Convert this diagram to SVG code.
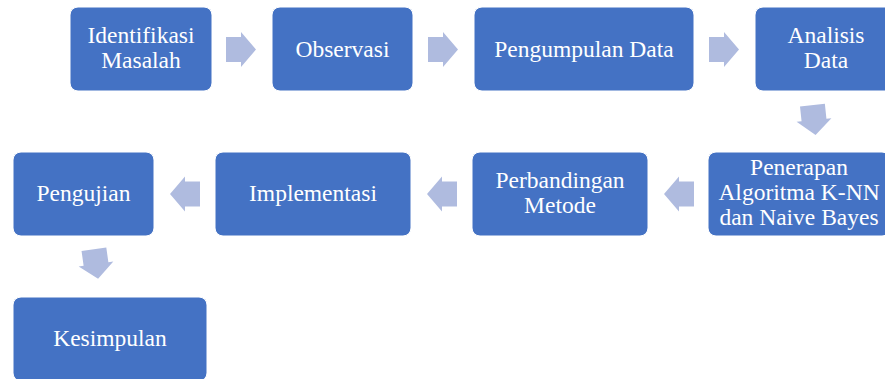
<svg xmlns="http://www.w3.org/2000/svg" xmlns:xlink="http://www.w3.org/1999/xlink" width="885" height="379" viewBox="0 0 885 379">
<style>
.box{fill:#4472C4;stroke:#ffffff;stroke-width:1}
.lbl{font-size:23.5px;fill:#ffffff;text-anchor:middle}
.arr{fill:#AFBBDF}
</style>
<defs>
<path id="arrowR" d="M-15,-12.5 H0 V-17.5 L15,0 L0,17.5 V12.5 H-15 Z"/>
</defs>
<rect width="885" height="379" fill="#ffffff"/>
<g id="connectors" class="arr">
<use xlink:href="#arrowR" transform="translate(241,49.5)"/>
<use xlink:href="#arrowR" transform="translate(443,49.5)"/>
<use xlink:href="#arrowR" transform="translate(724,49.5)"/>
<use xlink:href="#arrowR" transform="translate(814,120) rotate(84)"/>
<use xlink:href="#arrowR" transform="translate(679,194) rotate(180)"/>
<use xlink:href="#arrowR" transform="translate(442,194) rotate(180)"/>
<use xlink:href="#arrowR" transform="translate(185,194) rotate(180)"/>
<use xlink:href="#arrowR" transform="translate(96,264) rotate(82)"/>
</g>
<g font-family="'Liberation Serif', 'Times New Roman', 'DejaVu Serif', serif">
<g id="n1"><rect class="box" x="70" y="7" width="142" height="84" rx="8"/>
<text class="lbl" x="141" y="43">Identifikasi</text><text class="lbl" x="141" y="68">Masalah</text></g>
<g id="n2"><rect class="box" x="272" y="7" width="141" height="84" rx="8"/>
<text class="lbl" x="342.5" y="57">Observasi</text></g>
<g id="n3"><rect class="box" x="474" y="7" width="220" height="84" rx="8"/>
<text class="lbl" x="584" y="57">Pengumpulan Data</text></g>
<g id="n4"><rect class="box" x="755" y="7" width="142" height="84" rx="8"/>
<text class="lbl" x="826" y="43">Analisis</text><text class="lbl" x="826" y="68">Data</text></g>
<g id="n5"><rect class="box" x="708" y="152" width="182" height="84" rx="8"/>
<text class="lbl" x="799" y="175">Penerapan</text><text class="lbl" x="799" y="200">Algoritma K-NN</text><text class="lbl" x="799" y="225">dan Naive Bayes</text></g>
<g id="n6"><rect class="box" x="472" y="152" width="176" height="84" rx="8"/>
<text class="lbl" x="560" y="188">Perbandingan</text><text class="lbl" x="560" y="213">Metode</text></g>
<g id="n7"><rect class="box" x="215" y="152" width="196" height="84" rx="8"/>
<text class="lbl" x="313" y="201">Implementasi</text></g>
<g id="n8"><rect class="box" x="13" y="152" width="141" height="84" rx="8"/>
<text class="lbl" x="83.5" y="201">Pengujian</text></g>
<g id="n9"><rect class="box" x="13" y="297" width="194" height="84" rx="8"/>
<text class="lbl" x="110" y="346">Kesimpulan</text></g>
</g>
</svg>
